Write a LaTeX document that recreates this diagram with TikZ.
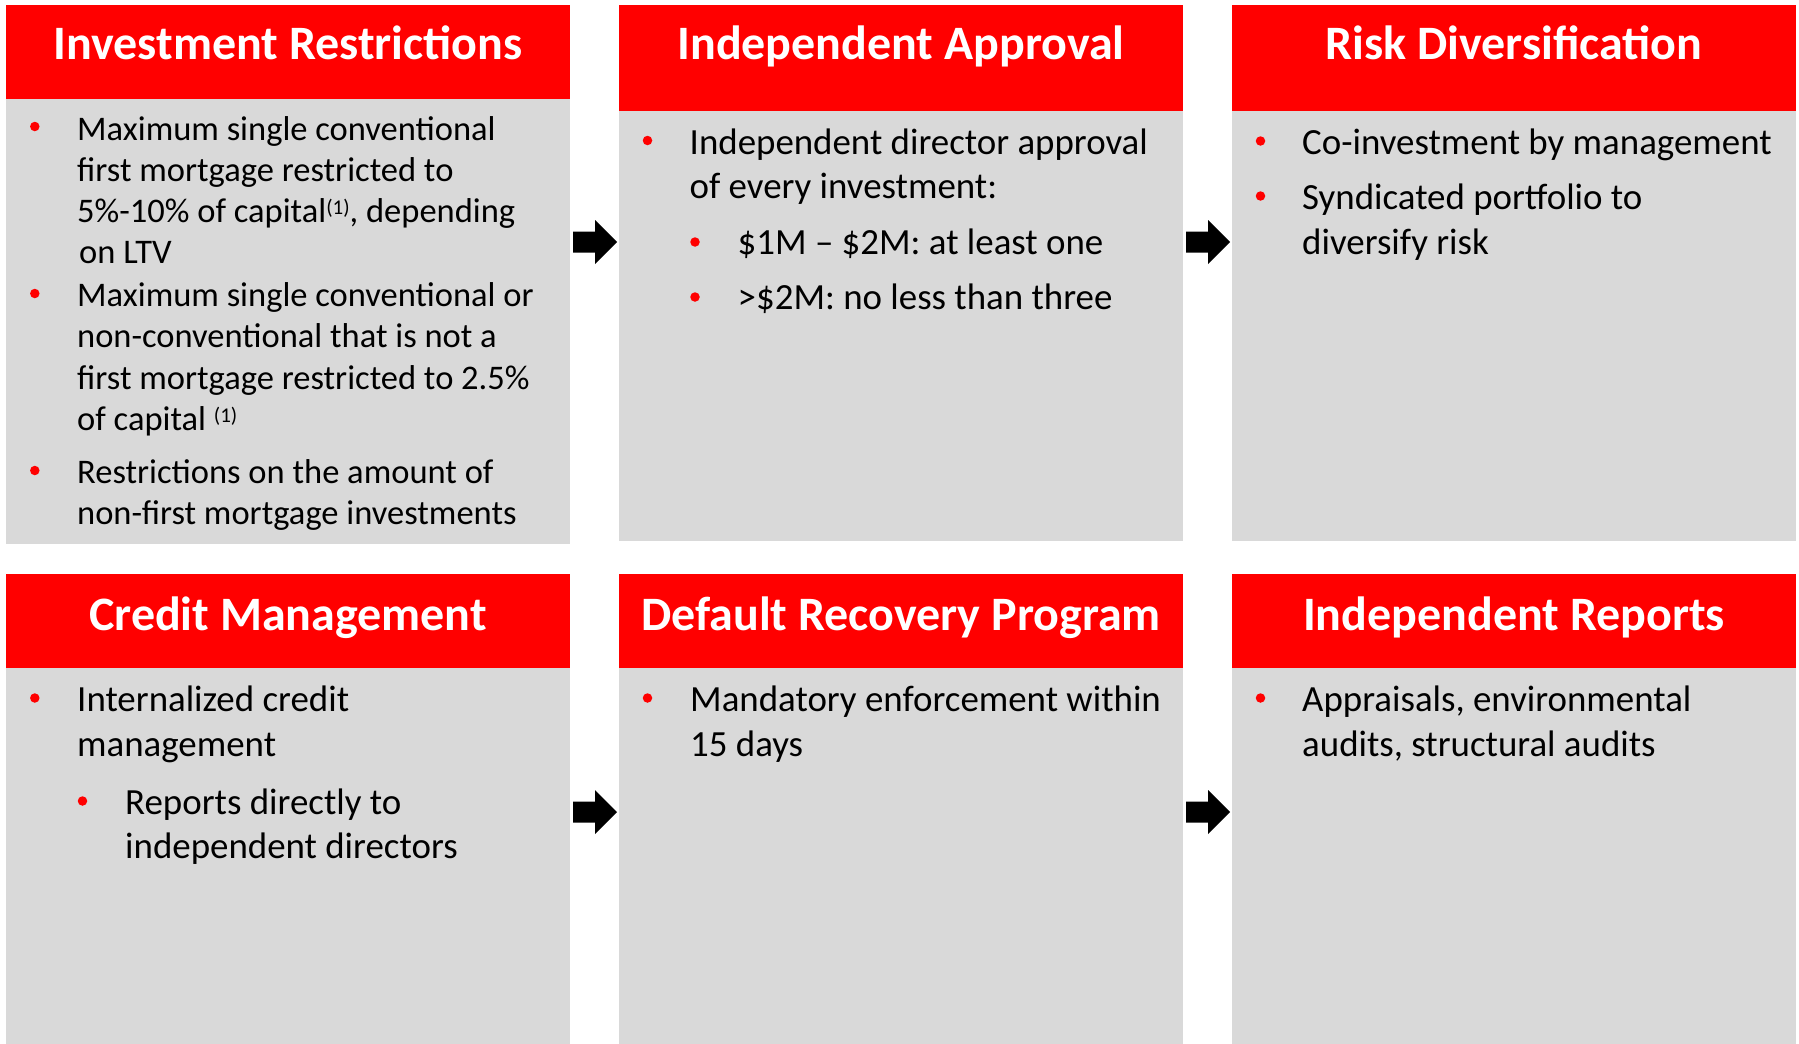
\documentclass[tikz,border=0pt]{standalone}
\usepackage{fontspec}
\setmainfont{Carlito}
\usetikzlibrary{calc}

\definecolor{hdrred}{RGB}{255,0,0}
\definecolor{panelgray}{RGB}{217,217,217}

% several lines, stacked with the current \baselineskip; baseline = first line
\newcommand\linesof[1]{\vtop{\halign{##\hfil\cr#1\crcr}}}
% raised footnote marker
\newcommand\fnmark{\raisebox{8pt}{\fontsize{21pt}{21pt}\selectfont(1)}}
% thick block arrow between two panels at height #3 (canvas y)
\newcommand\flowarrow[3]{%
  \fill[black] let \p1=(#1.east), \p2=(#2.west) in
    (\x1+3pt,#3+10.5pt) -- (\x1+25pt,#3+10.5pt) -- (\x1+25pt,#3+22pt)
    -- (\x2-2pt,#3) -- (\x1+25pt,#3-22pt) -- (\x1+25pt,#3-10.5pt)
    -- (\x1+3pt,#3-10.5pt) -- cycle;}

\tikzset{
  hdr/.style={fill=hdrred, inner sep=0pt, outer sep=0pt, anchor=north west, minimum width=564pt},
  panel/.style={fill=panelgray, inner sep=0pt, outer sep=0pt, anchor=north west, minimum width=564pt},
  title/.style={text=white, inner sep=0pt, anchor=base, font=\fontsize{48pt}{57pt}\selectfont\bfseries},
  body/.style={inner sep=0pt, anchor=base west, text=black, font=\fontsize{36.9pt}{44.8pt}\selectfont},
  bodysmall/.style={inner sep=0pt, anchor=base west, text=black, font=\fontsize{34.5pt}{41.3pt}\selectfont},
  dot/.style={circle, fill=hdrred, inner sep=0pt, minimum size=9.5pt},
}

\begin{document}
\begin{tikzpicture}[x=1pt,y=-1pt]
\useasboundingbox (0,0) rectangle (1799,1044);

% ---- top row panels
\node[hdr, minimum height=94pt] (h1) at (6,5) {};
\node[panel, minimum height=445pt] (p1) at (6,99) {};
\node[hdr, minimum height=106pt] (h2) at (619,5) {};
\node[panel, minimum height=430pt] (p2) at (619,111) {};
\node[hdr, minimum height=106pt] (h3) at (1232,5) {};
\node[panel, minimum height=430pt] (p3) at (1232,111) {};

% ---- bottom row panels
\node[hdr, minimum height=94pt] (h4) at (6,574) {};
\node[panel, minimum height=376pt] (p4) at (6,668) {};
\node[hdr, minimum height=94pt] (h5) at (619,574) {};
\node[panel, minimum height=376pt] (p5) at (619,668) {};
\node[hdr, minimum height=94pt] (h6) at (1232,574) {};
\node[panel, minimum height=376pt] (p6) at (1232,668) {};

% ---- titles
\node[title] (t1) at (288,59.5) {Investment Restrictions};
\node[title] (t2) at (901,59.5) {Independent Approval};
\node[title] (t3) at (1514,59.5) {Risk Diversification};
\node[title] (t4) at (288,630) {Credit Management};
\node[title] (t5) at (901,630) {Default Recovery Program};
\node[title] (t6) at (1514,630) {Independent Reports};

% ---- arrows
\flowarrow{p1}{p2}{-242pt}
\flowarrow{p2}{p3}{-242pt}
\flowarrow{p4}{p5}{-812pt}
\flowarrow{p5}{p6}{-812pt}

% ---- Investment Restrictions
\node[dot] (d1a) at (34.8,126.5) {};
\node[bodysmall] (b1a) at (77,140) {\linesof{Maximum single conventional\cr
  first mortgage restricted to\cr
  5\%-10\% of capital\fnmark, depending\cr
  \kern2pt on LTV}};
\node[dot] (d1b) at (34.8,293.5) {};
\node[bodysmall] (b1b) at (77,306.5) {\linesof{Maximum single conventional or\cr
  non-conventional that is not a\cr
  first mortgage restricted to 2.5\%\cr
  of capital \fnmark}};
\node[dot] (d1c) at (34.8,470.5) {};
\node[bodysmall] (b1c) at (77,483.5) {\linesof{Restrictions on the amount of\cr
  non-first mortgage investments}};

% ---- Independent Approval
\node[dot] (d2a) at (647.5,140.5) {};
\node[body] (b2a) at (689.5,154) {\linesof{Independent director approval\cr
  of every investment:}};
\node[dot] (d2b) at (695,242) {};
\node[body] (b2b) at (737.5,254.5) {\$1M – \$2M: at least one};
\node[dot] (d2c) at (695,297) {};
\node[body] (b2c) at (737.5,309.5) {>\$2M: no less than three};

% ---- Risk Diversification
\node[dot] (d3a) at (1260.5,141) {};
\node[body] (b3a) at (1302,154.5) {Co-investment by management};
\node[dot] (d3b) at (1260.5,196) {};
\node[body] (b3b) at (1302,209.5) {\linesof{Syndicated portfolio to\cr
  diversify risk}};

% ---- Credit Management
\node[dot] (d4a) at (34.8,698) {};
\node[body] (b4a) at (77,711.5) {\linesof{Internalized credit\cr
  management}};
\node[dot] (d4b) at (82.5,801) {};
\node[body] (b4b) at (125,814) {\linesof{Reports directly to\cr
  independent directors}};

% ---- Default Recovery Program
\node[dot] (d5a) at (647.5,698) {};
\node[body] (b5a) at (690,711.5) {\linesof{Mandatory enforcement within\cr
  15 days}};

% ---- Independent Reports
\node[dot] (d6a) at (1260.5,698) {};
\node[body] (b6a) at (1302,711.5) {\linesof{Appraisals, environmental\cr
  audits, structural audits}};
\end{tikzpicture}
\end{document}
